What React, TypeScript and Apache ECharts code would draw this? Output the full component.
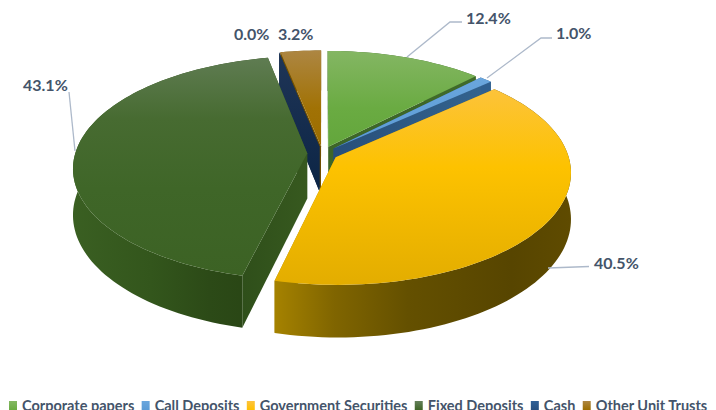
import React, { useEffect, useRef } from "react";
import * as echarts from "echarts";

const categories = ["Corporate papers", "Call Deposits", "Government Securities", "Fixed Deposits", "Cash", "Other Unit Trusts"];
const shares = [12.4, 1.0, 40.5, 43.1, 0.0, 3.2];
const drawOrder = [5, 4, 3, 0, 1, 2];
const W = 716, H = 410;
const OX = 322.5, OY = 153.5, RX = 232, RY = 110, PERSP = 0.13, EXPLODE = 0.066, DEPTH = 45.5;
const TOTAL = shares.reduce((a, b) => a + b, 0);
const lg = (c: [number, string][], x2 = 0, y2 = 1) =>
  new echarts.graphic.LinearGradient(0, 0, x2, y2, c.map(([offset, color]) => ({ offset, color })));
const topFill = [
  () => lg([[0, "#84b663"], [0.6, "#6aab42"], [1, "#63a63c"]]),
  () => lg([[0, "#6aa6dd"], [1, "#5b9bd5"]]),
  () => lg([[0, "#fcc33a"], [0.4, "#fdc200"], [1, "#e3ad00"]]),
  () => lg([[0, "#5f7c52"], [0.28, "#476b31"], [0.6, "#3f6628"], [1, "#3c6224"]]),
  () => "#1f3864",
  () => lg([[0, "#ad8642"], [0.6, "#a17205"], [1, "#9c6d00"]]),
];
const arcFill = [
  () => "#3f6a2a",
  () => "#2f5f8f",
  () => lg([[0, "#a58200"], [0.2, "#806500"], [0.45, "#645000"], [0.8, "#574500"], [1, "#5f4b00"]], 1, 0),
  () => lg([[0, "#3a5f22"], [0.4, "#33561c"], [0.7, "#2c4a17"], [1, "#284414"]], 1, 0),
  () => "#1f3864",
  () => "#6f4e00",
];
const wallFill = [
  () => "#3d6628",
  () => lg([[0, "#274f7a"], [1, "#34648f"]], 1, 0),
  () => "#a98400",
  () => lg([[0, "#2f4f1a"], [1, "#37591f"]], 1, 0),
  () => lg([[0, "#1f3557"], [1, "#0c2545"]], 0, 1),
  () => "#6f4e00",
];
const labelPos = [[466, 17], [556, 32], [594, 262], [23, 84], [234, 33], [278, 33]];
const leaderPts = [
  [[407, 57], [450, 22], [462, 22]],
  [[487, 78], [541, 38], [552, 38]],
  [[548, 268], [589, 266.5]],
  [[75, 151], [69, 92]],
];
const legendColors = [
  () => lg([[0, "#84b863"], [1, "#6aab42"]]),
  () => lg([[0, "#6aa6dd"], [1, "#5b9bd5"]]),
  () => lg([[0, "#fcc33f"], [1, "#ffc000"]]),
  () => lg([[0, "#64805a"], [1, "#3f6527"]]),
  () => lg([[0, "#2f6097"], [1, "#264f80"]]),
  () => lg([[0, "#ad8642"], [1, "#9c6d00"]]),
];

function project(theta: number, r: number, du: number, dv: number, below: number) {
  const u = r * Math.sin(theta) + du;
  const v = -r * Math.cos(theta) + dv;
  const s = 1 / (1 - PERSP * v);
  return [OX + RX * u * s, OY + RY * v * s + below * DEPTH * s];
}

function sliceItem(index: number) {
  const start = (shares.slice(0, index).reduce((a, b) => a + b, 0) / TOTAL) * Math.PI * 2;
  const end = start + (shares[index] / TOTAL) * Math.PI * 2;
  const mid = (start + end) / 2;
  const du = EXPLODE * Math.sin(mid);
  const dv = -EXPLODE * Math.cos(mid);
  const n = Math.max(2, Math.ceil((end - start) / 0.03));
  const angles = Array.from({ length: n + 1 }, (_, i) => start + ((end - start) * i) / n);
  const rimTop = angles.map((a) => project(a, 1, du, dv, 0));
  const rimBot = angles.map((a) => project(a, 1, du, dv, 1));
  const apexTop = project(0, 0, du, dv, 0);
  const apexBot = project(0, 0, du, dv, 1);
  const poly = (points: number[][], fill: any) => ({ type: "polygon", shape: { points }, style: { fill, stroke: null } });
  const children: any[] = [
    poly([apexTop, rimTop[0], rimBot[0], apexBot], wallFill[index]()),
    poly([apexTop, rimTop[n], rimBot[n], apexBot], wallFill[index]()),
  ];
  if (shares[index] > 0) {
    children.push(poly([...rimTop, ...rimBot.slice().reverse()], arcFill[index]()));
    children.push(poly([apexTop, ...rimTop], topFill[index]()));
  }
  return { type: "group", children };
}

export default function App() {
  const ref = useRef<HTMLDivElement>(null);
  useEffect(() => {
    document.body.style.margin = "0";
    const chart = echarts.init(ref.current!, undefined, { renderer: "svg" });
    chart.setOption({
      animation: false,
      backgroundColor: "#ffffff",
      legend: {
        left: 9,
        top: 398,
        padding: 0,
        itemWidth: 8,
        itemHeight: 9,
        itemGap: 7.4,
        icon: "rect",
        selectedMode: false,
        textStyle: { color: "#44546a", fontFamily: "Lato", fontWeight: "bold", fontSize: 14.5 },
        data: categories.map((name, i) => ({ name, itemStyle: { color: legendColors[i]() } })),
      },
      series: categories.map((name, i) => ({
        type: "custom",
        name,
        coordinateSystem: "none",
        z: 2 + drawOrder.indexOf(i),
        clip: false,
        silent: true,
        data: [[shares[i]]],
        renderItem: () => sliceItem(i),
      })),
      graphic: [
        ...leaderPts.map((points) => ({
          type: "polyline",
          z: 50,
          shape: { points },
          style: { fill: null, stroke: "#adb9ca", lineWidth: 1.3 },
        })),
        ...shares.map((v, i) => ({
          type: "text",
          z: 51,
          x: labelPos[i][0],
          y: labelPos[i][1],
          style: {
            text: v.toFixed(1) + "%",
            fill: "#44546a",
            font: "bold 16px Lato",
            verticalAlign: "middle",
          },
        })),
      ],
    });
    return () => chart.dispose();
  }, []);
  return <div ref={ref} style={{ width: W, height: H, position: "absolute", left: 0, top: 0 }} />;
}
